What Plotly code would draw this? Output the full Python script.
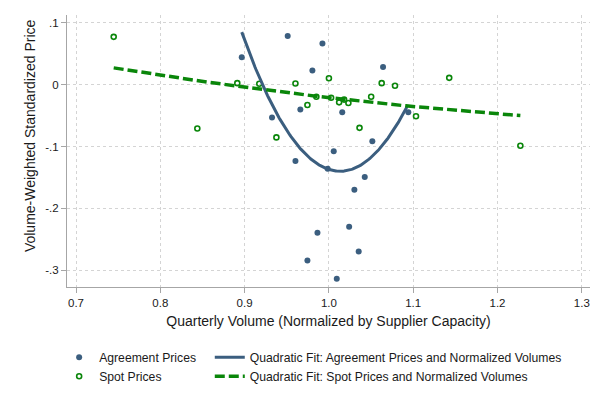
import numpy as np
import plotly.graph_objects as go

# ---- data ----
agree_x = [0.8966, 0.9511, 0.9923, 0.9804, 1.0642, 0.9661, 0.9325, 1.0158, 1.0515, 1.0942,
           1.0057, 0.9603, 0.9985, 1.0425, 1.0302, 1.0240, 0.9864, 1.0353, 0.9745, 1.0093]
agree_y = [0.0443, 0.0787, 0.0668, 0.0230, 0.0289, -0.0401, -0.0530, -0.0445, -0.0915, -0.0445,
           -0.1076, -0.1231, -0.1360, -0.1493, -0.1697, -0.2296, -0.2392, -0.2697, -0.2841, -0.3136]

spot_x = [0.7447, 0.8439, 0.8913, 0.9174, 0.9603, 1.0000, 0.9377, 0.9745, 0.9851, 1.0026,
          1.0121, 1.0231, 1.0501, 1.0363, 1.0626, 1.0784, 1.1033, 1.1427, 1.2271, 1.0180]
spot_y = [0.0775, -0.0707, 0.0026, 0.0016, 0.0021, 0.0106, -0.0851, -0.0327, -0.0193, -0.0209,
          -0.0284, -0.0295, -0.0193, -0.0697, 0.0026, -0.0016, -0.0509, 0.0112, -0.0985, -0.0240]

# quadratic fit coefficients (c0 + c1*x + c2*x^2) and x-span
agree_fit_coef = [16.850, -33.537, 16.55]
agree_fit_span = [0.8966, 1.0930]
spot_fit_coef = [0.2628, -0.4112, 0.1275]
spot_fit_span = [0.7447, 1.2271]

x_ticks = [0.7, 0.8, 0.9, 1.0, 1.1, 1.2, 1.3]
x_ticktext = ["0.7", "0.8", "0.9", "1.0", "1.1", "1.2", "1.3"]
y_ticks = [0.1, 0.0, -0.1, -0.2, -0.3]
y_ticktext = [".1", "0", "-.1", "-.2", "-.3"]

BLUE = "#3b5e7f"
GREEN = "#0a860a"
FONT = "Liberation Sans, Arial, Helvetica, sans-serif"


def qcurve(coef, span, n=200):
    xs = np.linspace(span[0], span[1], n)
    return xs, coef[0] + coef[1] * xs + coef[2] * xs ** 2


fig = go.Figure()
fig.add_trace(go.Scatter(x=agree_x, y=agree_y, mode="markers", name="Agreement Prices",
                         marker=dict(color=BLUE, size=6, symbol="circle"), legend="legend"))
fig.add_trace(go.Scatter(x=spot_x, y=spot_y, mode="markers", name="Spot Prices",
                         marker=dict(color=GREEN, size=5, symbol="circle-open",
                                     line=dict(color=GREEN, width=1.6)), legend="legend"))
ax, ay = qcurve(agree_fit_coef, agree_fit_span)
fig.add_trace(go.Scatter(x=ax, y=ay, mode="lines",
                         name="Quadratic Fit: Agreement Prices and Normalized Volumes",
                         line=dict(color=BLUE, width=3), legend="legend2"))
sx, sy = qcurve(spot_fit_coef, spot_fit_span)
fig.add_trace(go.Scatter(x=sx, y=sy, mode="lines",
                         name="Quadratic Fit: Spot Prices and Normalized Volumes",
                         line=dict(color=GREEN, width=3.5, dash="10px,4px"), legend="legend2"))

axis_common = dict(showline=True, linecolor="#a6a6a6", linewidth=1.2, ticks="outside",
                   ticklen=5, tickcolor="#a6a6a6", showgrid=True, gridcolor="#d4d4d4",
                   griddash="dot", gridwidth=1, zeroline=False, mirror=False,
                   tickfont=dict(family=FONT, size=11.5, color="#1a1a1a"))

fig.update_layout(
    width=605, height=403,
    margin=dict(l=67, r=15, t=15, b=114),
    plot_bgcolor="white", paper_bgcolor="white",
    font=dict(family=FONT, color="#1a1a1a"),
    xaxis=dict(range=[0.6893, 1.3097], tickvals=x_ticks, ticktext=x_ticktext,
               title=dict(text="Quarterly Volume (Normalized by Supplier Capacity)",
                          font=dict(family=FONT, size=14), standoff=8),
               **axis_common),
    yaxis=dict(range=[-0.327, 0.1128], tickvals=y_ticks, ticktext=y_ticktext,
               title=dict(text=""), **axis_common),
    legend=dict(x=-0.015, y=-0.205, xanchor="left", yanchor="top", orientation="v",
                font=dict(family=FONT, size=12.2), bgcolor="rgba(0,0,0,0)", tracegroupgap=0),
    legend2=dict(x=0.273, y=-0.205, xanchor="left", yanchor="top", orientation="v",
                 font=dict(family=FONT, size=12.2), bgcolor="rgba(0,0,0,0)", tracegroupgap=0),
    annotations=[dict(text="Volume-Weighted Standardized Price", xref="paper", yref="paper",
                      x=(30 - 67) / 523, y=(289 - 137) / 274, xanchor="center", yanchor="middle",
                      textangle=-90, showarrow=False, font=dict(family=FONT, size=14))],
)

fig.write_html("out.html")
